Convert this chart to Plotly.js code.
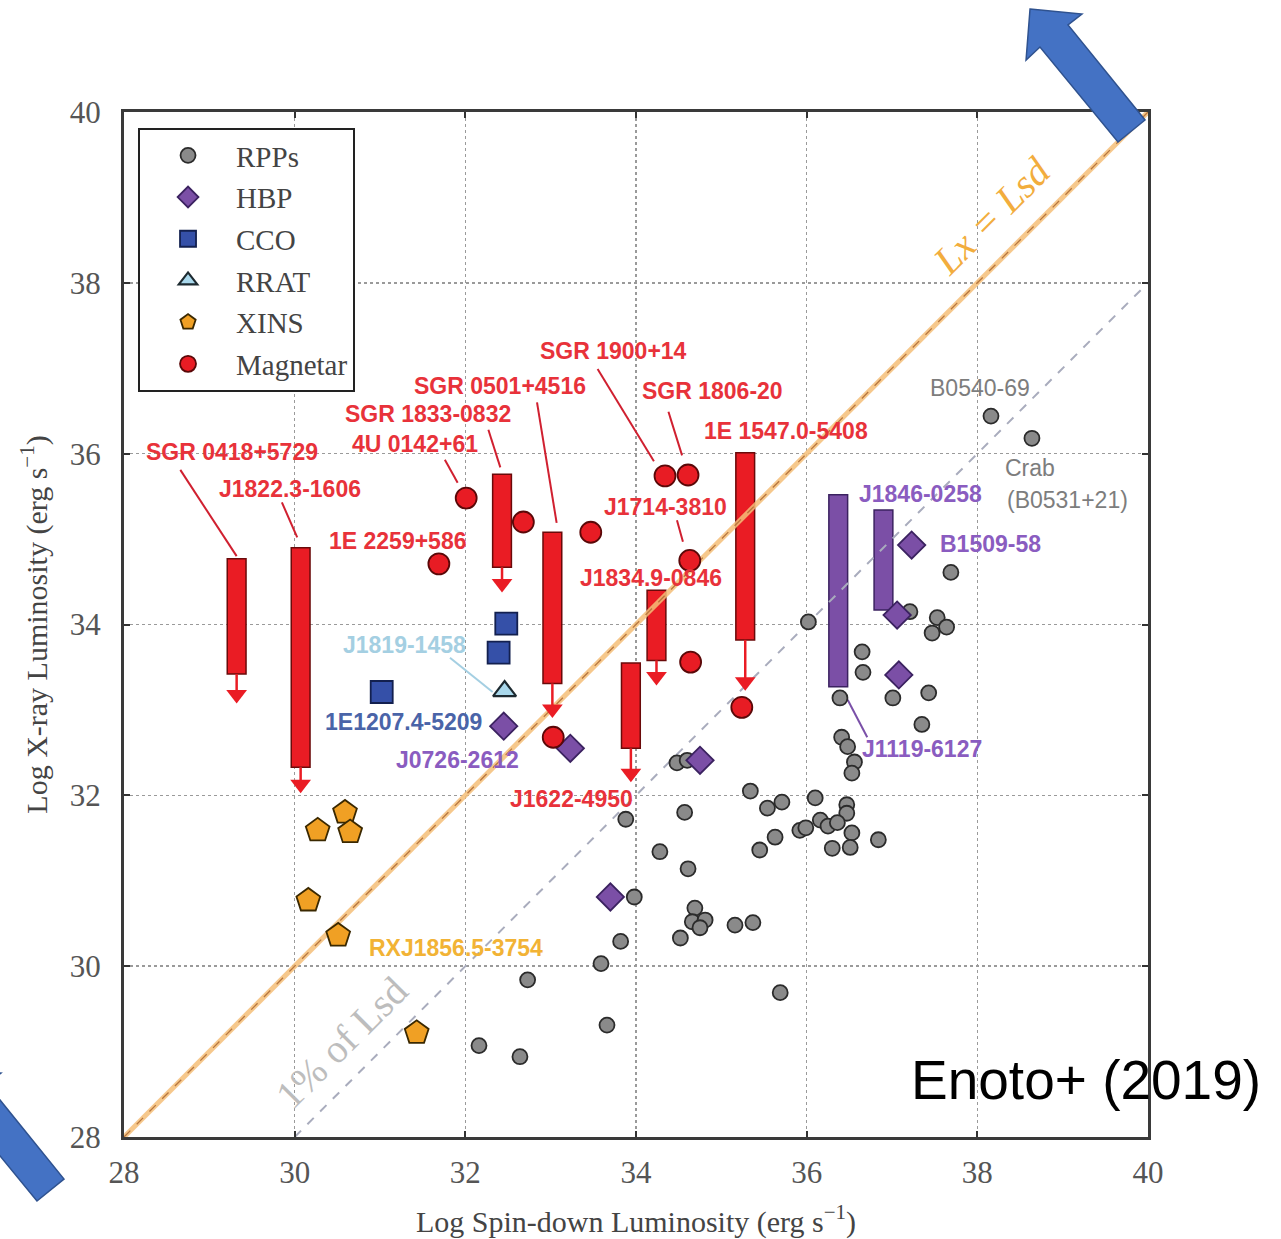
<!DOCTYPE html>
<html><head><meta charset="utf-8">
<script src="https://cdn.plot.ly/plotly-3.0.1.min.js"></script>
<style>html,body{margin:0;padding:0;background:#fff;}#chart{width:1281px;height:1239px;}</style>
</head><body><div id="chart"></div>
<script>
// ---------- data ----------
const rppX = [38.16,38.64,37.69,36.02,37.21,37.53,37.64,37.47,36.65,36.66,36.39,37.01,37.43,37.35,36.41,36.48,36.56,36.53,36.10,36.47,36.47,36.16,36.25,36.36,35.92,36.53,36.51,36.30,36.84,35.71,34.48,34.60,35.34,34.57,33.88,35.54,35.63,35.45,35.99,34.28,34.61,33.98,34.69,34.66,34.81,34.75,35.16,35.37,34.52,33.82,33.59,35.69,33.66,32.73,32.16,32.64];
const rppY = [36.44,36.18,34.61,34.03,34.15,34.08,33.97,33.90,33.68,33.44,33.14,33.14,33.20,32.83,32.68,32.57,32.39,32.26,31.97,31.89,31.79,31.71,31.64,31.68,31.59,31.56,31.39,31.38,31.48,31.92,32.38,32.41,32.05,31.80,31.72,31.85,31.51,31.36,31.62,31.34,31.14,30.81,30.68,30.52,30.54,30.45,30.48,30.51,30.33,30.29,30.03,29.69,29.31,29.84,29.07,28.94];

const hbpX = [32.45,33.23,34.75,33.70,37.23,37.06,37.08];
const hbpY = [32.81,32.55,32.41,30.81,34.93,34.11,33.41];
const hbpBarX = [36.37,36.90];
const hbpBarLow = [33.27,34.17];
const hbpBarHigh = [35.52,35.34];

const ccoX = [31.02,32.48,32.39];
const ccoY = [33.21,34.01,33.67];

const rratX = [32.46];
const rratY = [33.22];

const xinsX = [30.59,30.27,30.65,30.16,30.51,31.43];
const xinsY = [31.80,31.59,31.57,30.77,30.36,29.22];

const magX = [32.01,31.69,32.68,33.47,34.34,34.61,34.63,34.64,35.24,33.03];
const magY = [35.48,34.71,35.20,35.08,35.74,35.75,34.75,33.56,33.03,32.68];

const magBarX    = [29.32,30.07,32.43,33.02,34.24,33.94,35.28];
const magBarLow  = [33.42,32.33,34.67,33.31,33.58,32.55,33.82];
const magBarHigh = [34.77,34.90,35.76,35.08,34.40,33.55,36.01];
const magArrowY  = [33.18,32.13,34.48,33.01,33.39,32.26,33.33];

const labelText = ['SGR 0418+5729','J1822.3-1606','SGR 1833-0832','4U 0142+61','1E 2259+586','SGR 0501+4516','SGR 1900+14','SGR 1806-20','1E 1547.0-5408','J1714-3810','J1834.9-0846','J1622-4950','J1819-1458','1E1207.4-5209','J0726-2612','J1846-0258','B1509-58','J1119-6127','B0540-69','Crab','(B0531+21)','RXJ1856.5-3754'];
const labelX = [29.27,29.95,31.56,31.41,31.21,32.41,33.74,34.90,35.76,34.34,34.18,33.24,31.29,31.28,31.91,37.33,38.15,37.35,38.03,38.62,39.06,31.89];
const labelY = [36.02,35.59,36.46,36.11,34.98,36.79,37.20,36.73,36.27,35.38,34.54,31.96,33.76,32.86,32.41,35.53,34.94,32.54,36.77,35.83,35.46,30.21];
const labelKind = ['mag','mag','mag','mag','mag','mag','mag','mag','mag','mag','mag','mag','rrat','cco','hbp','hbp','hbp','hbp','rpp','rpp','rpp','xins'];

const leaderX0 = [28.66,29.85,32.27,31.76,32.84,33.55,34.38,34.48,31.82,36.48];
const leaderY0 = [35.81,35.43,36.28,35.93,36.60,36.99,36.49,35.22,33.61,33.12];
const leaderX1 = [29.32,30.03,32.41,31.91,33.07,34.21,34.54,34.55,32.32,36.71];
const leaderY1 = [34.80,35.02,35.84,35.66,35.19,35.91,35.98,34.97,33.21,32.68];
const leaderKind = ['mag','mag','mag','mag','mag','mag','mag','mag','rrat','hbp'];

const lineX = [28,40];
const lxEqLsdY = [28,40];
const onePctX = [30,40];
const onePctY = [28,38];

// ---------- styles ----------
const labelColor = {mag:'#e8323a', hbp:'#8a5cc0', cco:'#4a64a8', rrat:'#a4cfe2', xins:'#f2b335', rpp:'#7d7d7d'};
const leaderColor = {mag:'#d02030', hbp:'#7a50a8', rrat:'#a4cfe2'};
const SERIF = 'Liberation Serif';

const traces = [];
traces.push({x:lineX, y:lxEqLsdY, mode:'lines', line:{color:'rgba(245,190,120,0.85)', width:5}, showlegend:false, hoverinfo:'skip'});
traces.push({x:lineX, y:lxEqLsdY, mode:'lines', line:{color:'#b8763e', width:1.3, dash:'dash'}, showlegend:false, hoverinfo:'skip'});
traces.push({x:onePctX, y:onePctY, mode:'lines', line:{color:'#a9acbd', width:2, dash:'dash'}, showlegend:false, hoverinfo:'skip'});

// leader lines
Object.keys(leaderColor).forEach(k=>{
  const xs=[], ys=[];
  leaderX0.forEach((v,i)=>{ if(leaderKind[i]===k){ xs.push(leaderX0[i],leaderX1[i],null); ys.push(leaderY0[i],leaderY1[i],null);} });
  traces.push({x:xs, y:ys, mode:'lines', line:{color:leaderColor[k], width:2}, showlegend:false, hoverinfo:'skip'});
});

// bars
traces.push({type:'bar', x:hbpBarX, base:hbpBarLow, y:hbpBarHigh.map((h,i)=>h-hbpBarLow[i]), width:0.22,
  marker:{color:'#7b4fa6', line:{color:'#3b2260', width:1.5}}, showlegend:false, hoverinfo:'skip'});
traces.push({type:'bar', x:magBarX, base:magBarLow, y:magBarHigh.map((h,i)=>h-magBarLow[i]), width:0.22,
  marker:{color:'#ea1c24', line:{color:'#6a0a0a', width:1.5}}, showlegend:false, hoverinfo:'skip'});
// arrows
(function(){
  const xs=[], ys=[];
  magBarX.forEach((x,i)=>{ xs.push(x,x,null); ys.push(magBarLow[i],magArrowY[i],null); });
  traces.push({x:xs, y:ys, mode:'lines', line:{color:'#ea1c24', width:2.5}, showlegend:false, hoverinfo:'skip'});
  traces.push({x:magBarX, y:magArrowY, mode:'markers', marker:{symbol:'triangle-down', size:18, color:'#ea1c24', line:{width:0}}, showlegend:false, hoverinfo:'skip'});
})();

// points
traces.push({name:'RPPs', legendgroup:'a', x:rppX, y:rppY, mode:'markers', marker:{symbol:'circle', size:15, color:'#8a8a8a', line:{color:'#2b2b2b', width:1.8}}});
traces.push({name:'HBP', legendgroup:'b', x:hbpX, y:hbpY, mode:'markers', marker:{symbol:'diamond', size:21, color:'#7b4fa6', line:{color:'#3b2260', width:1.8}}});
traces.push({name:'CCO', legendgroup:'c', x:ccoX, y:ccoY, mode:'markers', marker:{symbol:'square', size:22, color:'#3550a8', line:{color:'#13204f', width:1.8}}});
traces.push({name:'RRAT', legendgroup:'d', x:rratX, y:rratY, mode:'markers', marker:{symbol:'triangle-up', size:20, color:'#a9d8ec', line:{color:'#1d2a30', width:2.2}}});
traces.push({name:'XINS', legendgroup:'e', x:xinsX, y:xinsY, mode:'markers', marker:{symbol:'pentagon', size:25, color:'#f0a024', line:{color:'#3a2800', width:1.8}}});
traces.push({name:'Magnetar', legendgroup:'f', x:magX, y:magY, mode:'markers', marker:{symbol:'circle', size:21, color:'#e81c24', line:{color:'#5a0808', width:1.8}}});

const annotations = labelText.map((t,i)=>({
  x:labelX[i], y:labelY[i], xref:'x', yref:'y', showarrow:false,
  text: labelKind[i]==='rpp' ? t : '<b>'+t+'</b>',
  font:{family:'Liberation Sans', size:23, color:labelColor[labelKind[i]]}
}));
annotations.push({x:38.17, y:38.79, xref:'x', yref:'y', showarrow:false, textangle:-45,
  text:'<i>Lx = Lsd</i>', font:{family:SERIF, size:40, color:'#f2ad3d'}});
annotations.push({x:30.55, y:29.11, xref:'x', yref:'y', showarrow:false, textangle:-45,
  text:'1% of Lsd', font:{family:SERIF, size:40, color:'#bdbdbd'}});
annotations.push({x:0.9395, y:0.0556, xref:'paper', yref:'paper', showarrow:false, xanchor:'center', yanchor:'middle',
  text:'Enoto+ (2019)', font:{family:'Liberation Sans', size:55, color:'#000'}});

// blue arrows (pixel outline -> paper coords)
function pxPath(pts){
  return pts.map((p,i)=>(i? 'L':'M')+((p[0]-124)/1024).toFixed(4)+','+((1137-p[1])/1025).toFixed(4)).join(' ')+' Z';
}
const arrowPts = [[1030,9],[1082,14],[1068,25],[1145,120],[1118,142],[1040,47],[1026,60]];
const shapes = [
  {type:'path', xref:'paper', yref:'paper', path:pxPath(arrowPts), fillcolor:'#4472c4', line:{color:'#2f528f', width:1.5}, layer:'above'},
  {type:'path', xref:'paper', yref:'paper', path:pxPath(arrowPts.map(p=>[p[0]-1081,p[1]+1059])), fillcolor:'#4472c4', line:{color:'#2f528f', width:1.5}, layer:'above'}
];

function axis(extra){
  return Object.assign({
    range:[28,40], tickmode:'linear', tick0:28, dtick:2,
    showgrid:true, gridcolor:'#9a9a9a', gridwidth:1.5, griddash:'dot',
    showline:true, linecolor:'#3a3a3a', linewidth:3, mirror:'ticks',
    ticks:'inside', ticklen:6, tickwidth:2, tickcolor:'#333',
    zeroline:false, automargin:false,
    tickfont:{family:SERIF, size:31, color:'#555'}
  }, extra);
}

const layout = {
  width:1281, height:1239,
  font:{family:SERIF, size:30, color:'#444'},
  margin:{l:124, r:133, t:112, b:102},
  paper_bgcolor:'#fff', plot_bgcolor:'#fff',
  barmode:'overlay',
  xaxis:axis({ticklabelstandoff:6,
    title:{text:'Log Spin-down Luminosity (erg s<sup>−1</sup>)', font:{family:SERIF, size:30, color:'#444'}, standoff:26}}),
  yaxis:axis({ticklabelstandoff:14,
    title:{text:'Log X-ray Luminosity (erg s<sup>−1</sup>)', font:{family:SERIF, size:30, color:'#444'}, standoff:14}}),
  showlegend:true,
  legend:{x:0.0137, y:0.9844, xanchor:'left', yanchor:'top', bgcolor:'#fff', bordercolor:'#222', borderwidth:2,
    font:{family:SERIF, size:29, color:'#444'}, itemwidth:86, traceorder:'grouped', tracegroupgap:1},
  annotations, shapes
};

Plotly.newPlot('chart', traces, layout, {displayModeBar:false, staticPlot:true});
</script></body></html>
